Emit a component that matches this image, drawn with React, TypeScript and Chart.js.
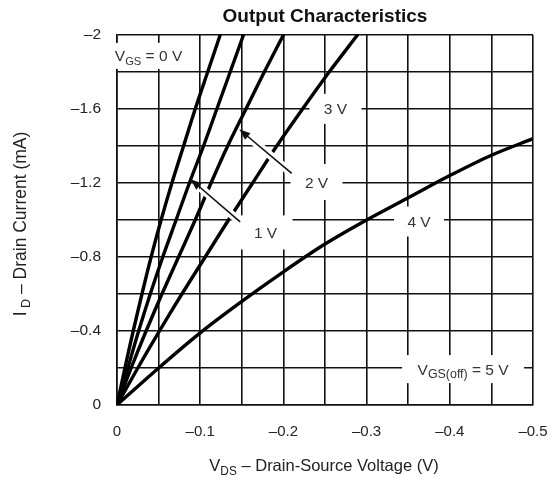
import React, { useEffect, useRef } from 'react';
import { Chart, registerables } from 'chart.js';

Chart.register(...registerables);

// ---- data ----
const TITLE = 'Output Characteristics';
const ID_STEPS = [0, -0.2, -0.4, -0.6, -0.8, -1.0, -1.2, -1.4, -1.6, -1.8, -2.0];
const VDS_VGS0 = [0, -0.0095, -0.0195, -0.030, -0.041, -0.053, -0.066, -0.080, -0.094, -0.109, -0.124];
const VDS_VGS1 = [0, -0.013, -0.026, -0.040, -0.055, -0.071, -0.087, -0.104, -0.120, -0.136, -0.152];
const VDS_VGS2 = [0, -0.017, -0.035, -0.054, -0.074, -0.094, -0.113, -0.133, -0.155, -0.177, -0.200];
const VDS_VGS3 = [0, -0.025, -0.051, -0.078, -0.106, -0.134, -0.163, -0.192, -0.223, -0.255, -0.289];
const VDS_STEPS = [0, -0.05, -0.1, -0.15, -0.2, -0.25, -0.3, -0.35, -0.4, -0.45, -0.5];
const ID_VGS4 = [0, -0.20, -0.39, -0.56, -0.72, -0.87, -1.00, -1.12, -1.24, -1.35, -1.44];
const X_TICKS = [0, -0.1, -0.2, -0.3, -0.4, -0.5];
const Y_TICKS = [0, -0.4, -0.8, -1.2, -1.6, -2.0];
const CURVE_LABELS = ['0 V', '1 V', '2 V', '3 V', '4 V', '5 V'];

const FONT = '"Liberation Sans", Arial, Helvetica, sans-serif';

type Part = { t: string; sub?: boolean };

function drawParts(ctx: CanvasRenderingContext2D, parts: Part[], x: number, baseline: number, size: number, color: string, align: 'left' | 'center' = 'center', weight = 'normal', subScale = 0.72) {
  const subSize = size * subScale;
  let total = 0;
  const widths = parts.map((p) => {
    ctx.font = `${weight} ${p.sub ? subSize : size}px ${FONT}`;
    const w = ctx.measureText(p.t).width;
    total += w;
    return w;
  });
  let cx = align === 'center' ? x - total / 2 : x;
  ctx.fillStyle = color;
  ctx.textAlign = 'left';
  ctx.textBaseline = 'alphabetic';
  parts.forEach((p, i) => {
    ctx.font = `${weight} ${p.sub ? subSize : size}px ${FONT}`;
    ctx.fillText(p.t, cx, baseline + (p.sub ? size * 0.22 : 0));
    cx += widths[i];
  });
}

function fmt(v: number, step: number, every: number, digits: number) {
  const k = Math.round(v / step);
  if (k % every !== 0) return '';
  if (k === 0) return '0';
  const a = Math.abs(v);
  const s = a.toFixed(digits).replace(/\.0+$/, '');
  return (v < 0 ? '\u2013' : '') + s;
}

export default function App() {
  const ref = useRef<HTMLCanvasElement | null>(null);

  useEffect(() => {
    const canvas = ref.current;
    if (!canvas) return;

    const curve = (xs: number[], ys: number[]) => xs.map((x, i) => ({ x, y: ys[i] }));
    const ds = (data: { x: number; y: number }[]) => ({
      data,
      borderColor: '#000',
      borderWidth: 3.4,
      pointRadius: 0,
      tension: 0.3,
      fill: false,
      showLine: true,
    });

    const labelsPlugin = {
      id: 'curveLabels',
      beforeDatasetsDraw(chart: any) {
        const { ctx, scales } = chart;
        const xs = scales.x, ys = scales.y;
        const P = (v: number, i: number) => [xs.getPixelForValue(v), ys.getPixelForValue(i)];
        ctx.save();
        const boxes: [number, number, number, number, Part[]][] = [
          [-0.0379, -1.887, 82, 26, [{ t: 'V' }, { t: 'GS', sub: true }, { t: ' = ' + CURVE_LABELS[0] }]],
          [-0.2626, -1.601, 52, 30, [{ t: CURVE_LABELS[3] }]],
          [-0.2398, -1.205, 52, 36, [{ t: CURVE_LABELS[2] }]],
          [-0.1785, -0.933, 54, 34, [{ t: CURVE_LABELS[1] }]],
          [-0.363, -0.992, 50, 30, [{ t: CURVE_LABELS[4] }]],
          [-0.416, -0.194, 122, 28, [{ t: 'V' }, { t: 'GS(off)', sub: true }, { t: ' = ' + CURVE_LABELS[5] }]],
        ];
        boxes.forEach(([v, i, w, h, parts], k) => {
          const [px, py] = P(v, i);
          ctx.fillStyle = '#fff';
          ctx.fillRect(px - w / 2, py - h / 2, w, h);
          drawParts(ctx, parts, px, py + 5.5, 15.5, '#333', 'center', 'normal', k === 5 ? 0.8 : 0.72);
        });
        ctx.restore();
      },
      afterDatasetsDraw(chart: any) {
        const { ctx, scales } = chart;
        const xs = scales.x, ys = scales.y;
        const P = (v: number, i: number) => [xs.getPixelForValue(v), ys.getPixelForValue(i)];
        const arrows: [number, number, number, number][] = [
          [-0.148, -0.99, -0.0885, -1.22],
          [-0.210, -1.252, -0.147, -1.49],
        ];
        ctx.save();
        arrows.forEach(([v0, i0, v1, i1]) => {
          const [x0, y0] = P(v0, i0);
          const [x1, y1] = P(v1, i1);
          const dx = x1 - x0, dy = y1 - y0;
          const len = Math.hypot(dx, dy);
          const ux = dx / len, uy = dy / len;
          ctx.strokeStyle = '#fff';
          ctx.lineWidth = 8;
          ctx.lineCap = 'butt';
          ctx.beginPath();
          ctx.moveTo(x0 - ux * 2, y0 - uy * 2);
          ctx.lineTo(x0 + dx * 0.8, y0 + dy * 0.8);
          ctx.stroke();
          ctx.strokeStyle = '#111';
          ctx.lineWidth = 1.6;
          ctx.beginPath();
          ctx.moveTo(x0, y0);
          ctx.lineTo(x1 - ux * 8, y1 - uy * 8);
          ctx.stroke();
          const hl = 11, hw = 4.2;
          const bx = x1 - ux * hl, by = y1 - uy * hl;
          ctx.fillStyle = '#111';
          ctx.beginPath();
          ctx.moveTo(x1, y1);
          ctx.lineTo(bx - uy * hw, by + ux * hw);
          ctx.lineTo(bx + uy * hw, by - ux * hw);
          ctx.closePath();
          ctx.fill();
        });
        ctx.restore();
      },
      afterDraw(chart: any) {
        const { ctx, chartArea } = chart;
        ctx.save();
        const cx = (chartArea.left + chartArea.right) / 2;
        drawParts(ctx, [{ t: TITLE }], cx, 22, 19, '#111', 'center', 'bold');
        drawParts(ctx, [{ t: 'V' }, { t: 'DS', sub: true }, { t: ' \u2013 Drain-Source Voltage (V)' }], cx - 1, 471, 16.5, '#222');
        ctx.translate(26, (chartArea.top + chartArea.bottom) / 2 + 4);
        ctx.rotate(-Math.PI / 2);
        drawParts(ctx, [{ t: 'I' }, { t: ' D', sub: true }, { t: ' \u2013 Drain Current (mA)' }], 0, 0, 17.5, '#222');
        ctx.restore();
      },
    };

    const chart = new Chart(canvas, {
      type: 'line',
      data: {
        datasets: [
          ds(curve(VDS_VGS0, ID_STEPS)),
          ds(curve(VDS_VGS1, ID_STEPS)),
          ds(curve(VDS_VGS2, ID_STEPS)),
          ds(curve(VDS_VGS3, ID_STEPS)),
          ds(curve(VDS_STEPS, ID_VGS4)),
        ],
      },
      options: {
        animation: false,
        responsive: true,
        maintainAspectRatio: false,
        devicePixelRatio: 1,
        layout: { padding: { top: 35, right: 21, left: 0, bottom: 0 } },
        plugins: { legend: { display: false }, tooltip: { enabled: false }, title: { display: false } },
        elements: { line: { borderCapStyle: 'round', borderJoinStyle: 'round' } },
        scales: {
          x: {
            type: 'linear',
            min: X_TICKS[X_TICKS.length - 1],
            max: X_TICKS[0],
            reverse: true,
            afterFit: (s: any) => { s.height = 73; s.paddingLeft = 0; s.paddingRight = 0; },
            ticks: {
              stepSize: 0.05,
              autoSkip: false,
              maxRotation: 0,
              padding: 18,
              color: '#222',
              font: { size: 15, family: FONT },
              callback: (v: any) => fmt(Number(v), 0.05, 2, 1),
            },
            grid: { color: '#111', lineWidth: 1.6, drawTicks: false },
            border: { color: '#111', width: 1.6 },
          },
          y: {
            type: 'linear',
            min: Y_TICKS[Y_TICKS.length - 1],
            max: Y_TICKS[0],
            reverse: true,
            afterFit: (s: any) => { s.width = 117; s.paddingTop = 0; s.paddingBottom = 0; },
            ticks: {
              stepSize: 0.2,
              autoSkip: false,
              padding: 16,
              color: '#222',
              font: { size: 15.5, family: FONT },
              callback: (v: any) => fmt(Number(v), 0.2, 2, 1),
            },
            grid: { color: '#111', lineWidth: 1.6, drawTicks: false },
            border: { color: '#111', width: 1.6 },
          },
        },
      },
      plugins: [labelsPlugin],
    } as any);

    return () => chart.destroy();
  }, []);

  return (
    <div style={{ position: 'fixed', left: 0, top: 0, width: 554, height: 478, background: '#fff' }}>
      <canvas ref={ref} />
    </div>
  );
}
